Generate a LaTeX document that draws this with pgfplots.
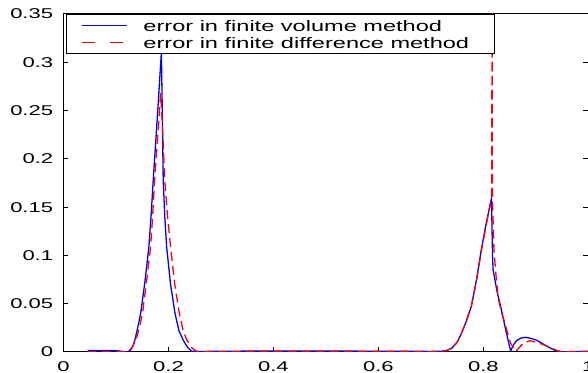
\documentclass[border=0pt]{standalone}
\usepackage{fontspec}
\setmainfont{Liberation Sans}[FakeStretch=1.55]
\usepackage{pgfplots}
\pgfplotsset{compat=1.18}
\newcommand\tfont{\fontsize{7.1}{8.3}\selectfont}
\newcommand\lfont{\fontsize{7.6}{8.3}\selectfont}
\pgfplotsset{
  bluelegend/.style={legend image code/.code={\path (0pt,-1pt) (37.85pt,1pt); \draw[##1] (7.35pt,0pt) -- (30pt,0pt);}},
  redlegend/.style={legend image code/.code={\path (0pt,-1pt) (37.85pt,1pt); \draw[##1, dash pattern=on 6.6pt off 7.6pt] (7.35pt,0pt) -- (30pt,0pt);}},
}
\begin{document}
\begin{tikzpicture}
\begin{axis}[
  name=ax,
  scale only axis,
  width=262.4pt, height=169pt,
  xmin=0, xmax=1, ymin=0, ymax=0.35,
  xtick={0,0.2,0.4,0.6,0.8,1},
  xticklabels={0,0.2,0.4,0.6,0.8,1},
  ytick={0,0.05,0.1,0.15,0.2,0.25,0.3,0.35},
  yticklabels={0,0.05,0.1,0.15,0.2,0.25,0.3,0.35},
  /pgf/number format/assume math mode=true,
  tick align=inside,
  tick pos=both,
  major tick length=2.5pt,
  tick style={black, line width=0.5pt},
  axis line style={black, line width=0.5pt},
  ticklabel style={font=\tfont},
  xticklabel style={inner sep=0pt, yshift=-4.5pt},
  yticklabel style={inner sep=0pt, xshift=-5pt},
  legend style={at={(rel axis cs:0,1)}, anchor=north west, xshift=1.25pt,
    draw=black, line width=0.5pt, fill=white,
    inner xsep=0pt, inner ysep=1.45pt, row sep=0pt, column sep=0pt,
    font=\lfont,
    nodes={inner sep=0pt, text height=7.05pt, text depth=1.25pt}},
]
\addplot[color={rgb,255:red,0;green,0;blue,255}, line width=0.65pt, bluelegend] coordinates {
(0.046,0.0015) (0.08,0.0015) (0.10,0.0014) (0.11,0.0008) (0.117,0.0002)
(0.123,0.0005) (0.128,0.002) (0.132,0.006) (0.136,0.0124) (0.141,0.024)
(0.147,0.040) (0.155,0.072) (0.1627,0.109) (0.167,0.142) (0.171,0.178)
(0.179,0.245) (0.1865,0.310) (0.1885,0.240) (0.190,0.178) (0.193,0.140)
(0.1965,0.109) (0.204,0.070) (0.2125,0.040) (0.220,0.022) (0.228,0.0124)
(0.236,0.005) (0.244,0.0008) (0.26,0.0005) (0.30,0.0008) (0.40,0.001)
(0.50,0.001) (0.60,0.0008) (0.70,0.0006) (0.72,0.0008) (0.73,0.0015)
(0.74,0.004) (0.75,0.010) (0.758,0.019) (0.767,0.031) (0.777,0.047)
(0.787,0.075) (0.796,0.1056) (0.805,0.132) (0.8155,0.159) (0.8175,0.100)
(0.8186,0.085) (0.826,0.063) (0.8345,0.0435) (0.843,0.022) (0.852,0.001)
(0.857,0.007) (0.863,0.0117) (0.872,0.0145) (0.881,0.0152) (0.891,0.0140)
(0.901,0.0124) (0.911,0.0092) (0.921,0.006) (0.936,0.0017) (0.946,0.0002)
(0.96,0.0003) (1.0,0.0008)
};
\addlegendentry{\makebox[175.65pt][l]{error in finite volume method}}
\addplot[color=red, line width=0.65pt, dash pattern=on 4.5pt off 2.5pt, redlegend] coordinates {
(0.046,0.0003) (0.10,0.0003) (0.115,0.0003) (0.125,0.0012) (0.131,0.005)
(0.138,0.0124) (0.144,0.024) (0.1505,0.040) (0.158,0.072) (0.166,0.109)
(0.170,0.142) (0.1735,0.178) (0.1805,0.230) (0.185,0.268) (0.188,0.240)
(0.193,0.178) (0.198,0.142) (0.204,0.109) (0.212,0.070) (0.2207,0.040)
(0.228,0.022) (0.235,0.0124) (0.245,0.004) (0.254,0.0008) (0.27,0.0004)
(0.40,0.0008) (0.60,0.0008) (0.71,0.0005) (0.72,0.0008) (0.73,0.0015)
(0.74,0.004) (0.75,0.010) (0.758,0.019) (0.767,0.031) (0.777,0.047)
(0.787,0.074) (0.796,0.104) (0.805,0.130) (0.812,0.150) (0.8162,0.162)
(0.8166,0.60) (0.8172,0.160) (0.8203,0.1056) (0.824,0.080) (0.828,0.057)
(0.834,0.042) (0.841,0.030) (0.847,0.018) (0.852,0.009) (0.862,0.0005)
(0.869,0.005) (0.876,0.009) (0.889,0.0117) (0.908,0.009) (0.926,0.0049)
(0.943,0.001) (0.96,0.0003) (1.0,0.0003)
};
\addlegendentry{\makebox[175.65pt][l]{error in finite difference method}}
\end{axis}
\pgfresetboundingbox
\path[use as bounding box] ([shift={(-31.75pt,-10.5pt)}]ax.south west) rectangle ([shift={(262.25pt,176pt)}]ax.south west);
\end{tikzpicture}
\end{document}
